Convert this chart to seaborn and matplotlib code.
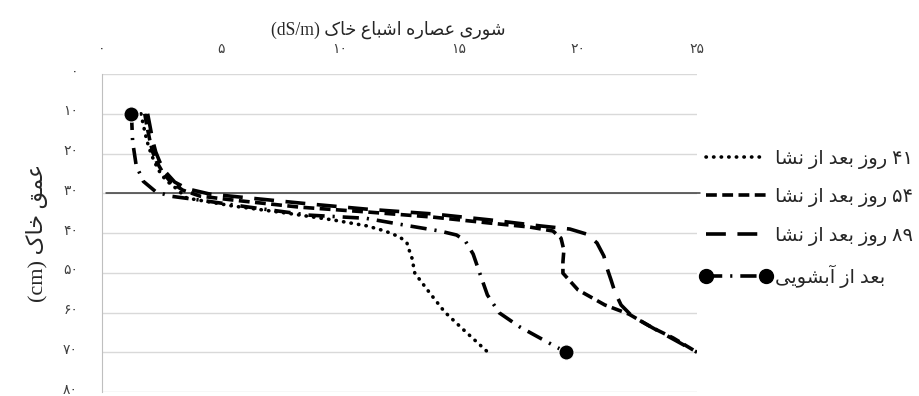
import matplotlib
matplotlib.use('Agg')
import pandas as pd
import matplotlib.pyplot as plt
import matplotlib.transforms as mtransforms
import seaborn as sns
from matplotlib.lines import Line2D

# soil saturation-extract EC (dS/m) against depth (cm)
depth_41 = [10, 12.8, 16.6, 19.1, 21.6, 24.2, 26.7, 28.7, 31.2, 33.2, 35.0, 36.7, 38.2,
            39.5, 41.0, 42.5, 44.8, 46.3, 50.1, 55.1, 59.9, 64.2, 70]
ec_41 = [1.65, 1.75, 1.89, 2.02, 2.18, 2.39, 2.69, 3.11, 3.57, 5.5, 7.77, 9.7, 11.13,
         11.9, 12.52, 12.82, 12.94, 13.03, 13.15, 13.78, 14.41, 15.17, 16.22]

depth_54 = [10, 12.8, 16.6, 19.6, 22.1, 24.7, 27.2, 29.2, 30.7, 31.7, 33.5, 34.7, 36.0,
            37.5, 38.5, 39.5, 41.3, 44.3, 47.3, 50.1, 54.3, 58.1, 60.4, 63.9, 66.4, 70]
ec_54 = [1.81, 1.89, 2.02, 2.14, 2.31, 2.56, 2.9, 3.4, 4.12, 5.5, 8.32, 11.13, 13.91,
         16.3, 17.98, 18.95, 19.29, 19.41, 19.37, 19.37, 20.0, 21.13, 22.14, 23.15, 24.0, 25.0]

depth_89 = [10, 12.8, 16.6, 19.6, 22.1, 24.7, 27.2, 28.9, 30.2, 31.2, 32.7, 34.0, 35.2,
            36.7, 38.2, 39.0, 40.3, 42.5, 45.8, 48.8, 51.8, 54.8, 58.1, 60.9, 63.9, 66.7, 70]
ec_89 = [1.93, 2.02, 2.14, 2.27, 2.44, 2.69, 3.07, 3.61, 4.54, 6.22, 8.74, 11.13, 13.91,
         16.3, 18.4, 19.66, 20.38, 20.8, 21.09, 21.22, 21.39, 21.55, 21.81, 22.27, 23.15, 24.0, 25.0]

depth_leach = [10, 17, 23, 27, 29.5, 30.7, 31.7, 33.5, 35.5, 36.3, 38.2, 39.5, 40.5, 41.8,
               45.3, 50.5, 55.6, 60.1, 63.6, 66.4, 70]
ec_leach = [1.25, 1.3, 1.45, 1.75, 2.25, 2.85, 4.1, 6.2, 8.7, 11.1, 12.9, 14.2, 14.9, 15.25,
            15.6, 15.9, 16.2, 16.7, 17.55, 18.4, 19.5]

series_names = ['۴۱ روز بعد از نشا', '۵۴ روز بعد از نشا', '۸۹ روز بعد از نشا', 'بعد از آبشویی']
x_ticks = [0, 5, 10, 15, 20, 25]
x_ticklabels = ['۰', '۵', '۱۰', '۱۵', '۲۰', '۲۵']
y_ticks = [0, 10, 20, 30, 40, 50, 60, 70, 80]
y_ticklabels = ['۰', '۱۰', '۲۰', '۳۰', '۴۰', '۵۰', '۶۰', '۷۰', '۸۰']
x_title = 'شوری عصاره اشباع خاک (dS/m)'
y_title = 'عمق خاک (cm)'

# --- minimal Persian shaping + right-to-left ordering (matplotlib has no bidi) ---
# letter: (isolated, final, initial, medial)
FORMS = {
    'ا': ('\uFE8D', '\uFE8E', None, None),
    'آ': ('\uFE81', '\uFE82', None, None),
    'ب': ('\uFE8F', '\uFE90', '\uFE91', '\uFE92'),
    'خ': ('\uFEA5', '\uFEA6', '\uFEA7', '\uFEA8'),
    'د': ('\uFEA9', '\uFEAA', None, None),
    'ر': ('\uFEAD', '\uFEAE', None, None),
    'ز': ('\uFEAF', '\uFEB0', None, None),
    'ش': ('\uFEB5', '\uFEB6', '\uFEB7', '\uFEB8'),
    'ص': ('\uFEB9', '\uFEBA', '\uFEBB', '\uFEBC'),
    'ع': ('\uFEC9', '\uFECA', '\uFECB', '\uFECC'),
    'ق': ('\uFED5', '\uFED6', '\uFED7', '\uFED8'),
    'م': ('\uFEE1', '\uFEE2', '\uFEE3', '\uFEE4'),
    'ن': ('\uFEE5', '\uFEE6', '\uFEE7', '\uFEE8'),
    'ه': ('\uFEE9', '\uFEEA', '\uFEEB', '\uFEEC'),
    'و': ('\uFEED', '\uFEEE', None, None),
    'ک': ('\uFB8E', '\uFB8F', '\uFB90', '\uFB91'),
    'ی': ('\uFBFC', '\uFBFD', '\uFBFE', '\uFBFF'),
}


def shape_word(w):
    out = []
    for i, c in enumerate(w):
        if c not in FORMS:
            out.append(c)
            continue
        iso, fin, ini, med = FORMS[c]
        prev = w[i - 1] if i > 0 else None
        nxt = w[i + 1] if i < len(w) - 1 else None
        jp = prev in FORMS and FORMS[prev][2] is not None
        jn = ini is not None and nxt in FORMS
        if jp and jn:
            out.append(med)
        elif jp:
            out.append(fin)
        elif jn:
            out.append(ini)
        else:
            out.append(iso)
    return ''.join(out)


def rtl(text):
    vis = []
    for w in reversed(text.split(' ')):
        if any(c in FORMS for c in w):
            vis.append(shape_word(w)[::-1])
        else:
            vis.append(w)
    return ' '.join(vis)


sns.set_style('white')
plt.rcParams['font.family'] = ['Liberation Serif', 'DejaVu Sans']

fig = plt.figure(figsize=(9.2, 3.96), dpi=100)
ax = fig.add_axes([0.1105, 0.0101, 0.6471, 0.803])

LW = 2.6
styles = [
    dict(ls=(0, (0.1, 2.0)), dash_capstyle='round'),
    dict(ls=(0, (3.0, 1.5))),
    dict(ls=(0, (5.5, 3.2))),
    dict(ls=(0, (4.5, 2.2, 0.6, 2.2))),
]
data = [(ec_41, depth_41), (ec_54, depth_54), (ec_89, depth_89), (ec_leach, depth_leach)]

for (xv, yv), st in zip(data, styles):
    sns.lineplot(x=xv, y=yv, sort=False, estimator=None, color='black', lw=LW, ax=ax, **st)

# markers only at the first and last point of the leaching profile
sns.scatterplot(x=[ec_leach[0], ec_leach[-1]], y=[depth_leach[0], depth_leach[-1]],
                color='black', s=120, ax=ax, zorder=5, clip_on=False)

ax.set_xlim(0, 25)
ax.set_ylim(80, 0)
ax.xaxis.tick_top()
ax.xaxis.set_label_position('top')
ax.set_xticks(x_ticks)
ax.set_xticklabels(x_ticklabels)
ax.set_yticks(y_ticks)
ax.set_yticklabels(y_ticklabels, va='center_baseline')
ax.tick_params(length=0, labelsize=10, colors='#404040')
ax.tick_params(axis='y', pad=17)
ax.tick_params(axis='x', pad=13)
# nudge depth labels up a touch so the bottom one is not clipped
up = mtransforms.ScaledTranslation(0, 2.5 / 72, fig.dpi_scale_trans)
for lab in ax.get_yticklabels():
    lab.set_transform(lab.get_transform() + up)

ax.yaxis.grid(True, color='#d9d9d9', lw=1)
ax.xaxis.grid(False)
for s in ['top', 'right', 'bottom']:
    ax.spines[s].set_visible(False)
ax.spines['left'].set_color('#bfbfbf')
ax.set_axisbelow(True)

# dark rule at 30 cm running into the legend
ax.axhline(30, xmin=0.007, xmax=1.005, color='#3a3a3a', lw=1.1, clip_on=False, zorder=1)

ax.set_xlabel(rtl(x_title), fontsize=12.7)
ax.xaxis.set_label_coords(0.481, 1.14)
ax.xaxis.label.set_va('center')
ax.set_ylabel(rtl(y_title), fontsize=16, labelpad=11)

handles = [Line2D([], [], color='black', lw=LW, **st) for st in styles]
handles[3].set_marker('o')
handles[3].set_markersize(10)
ax.legend(handles, [rtl(n) for n in series_names], loc='center left',
          bbox_to_anchor=(0.761, 0.447), bbox_transform=fig.transFigure,
          frameon=False, fontsize=14, numpoints=2, handlelength=3.7,
          handletextpad=0.15, labelspacing=1.0, borderpad=0, borderaxespad=0)

fig.savefig('out.png', dpi=100)
